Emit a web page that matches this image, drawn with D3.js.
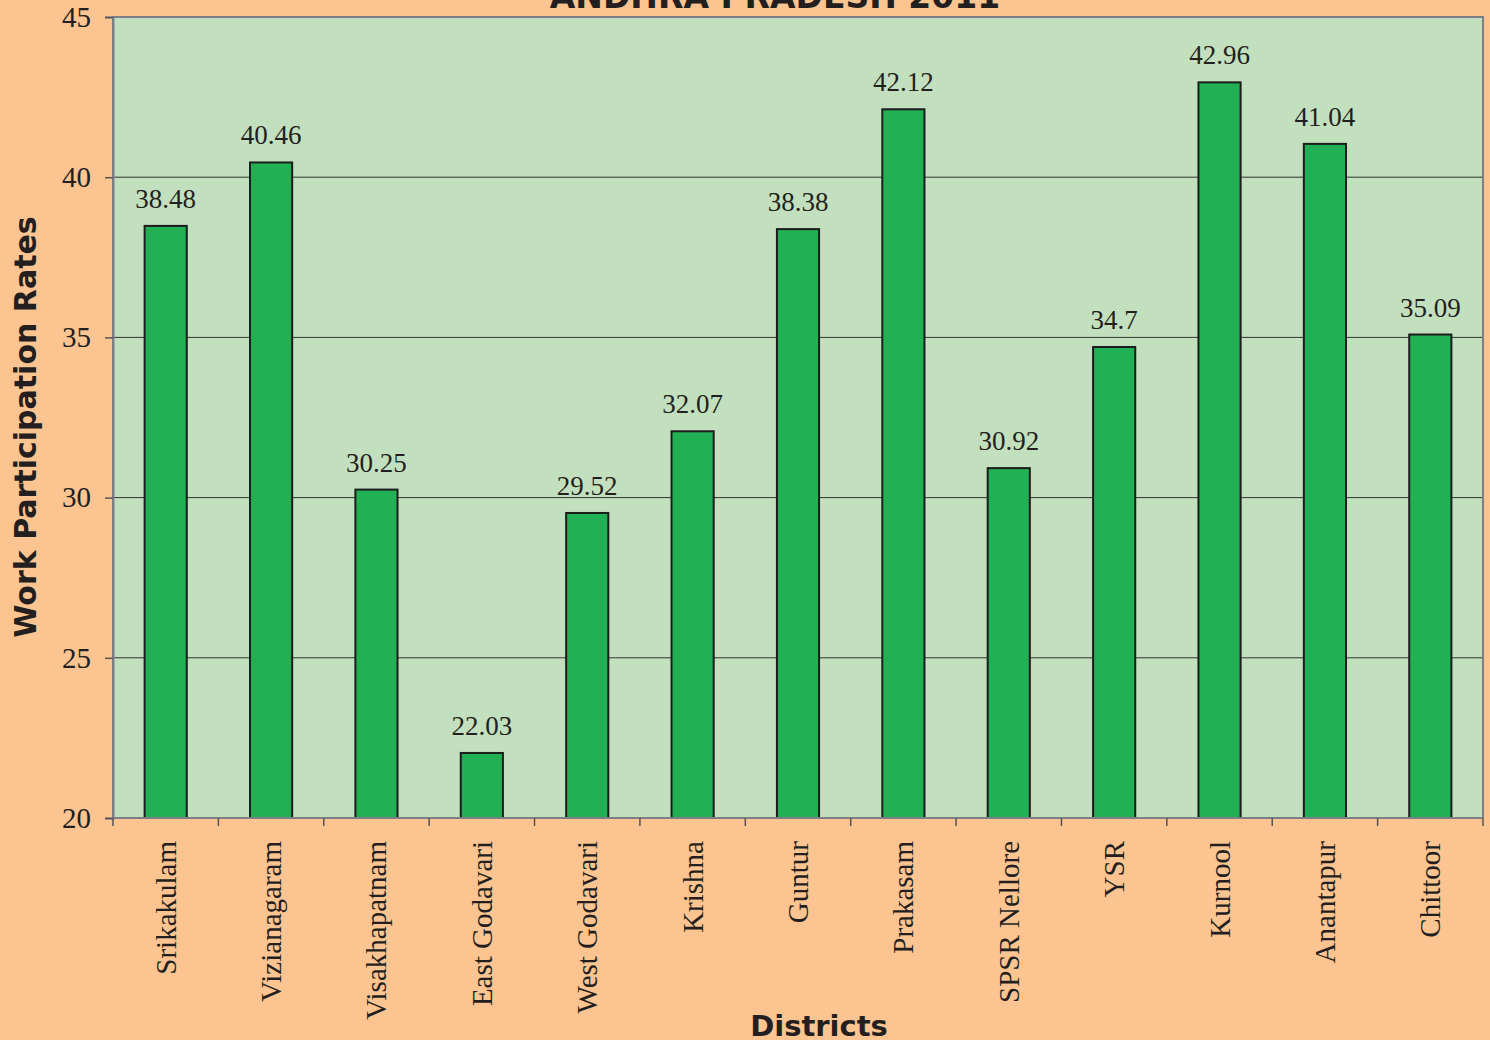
<!DOCTYPE html>
<html>
<head>
<meta charset="utf-8">
<script src="https://cdn.jsdelivr.net/npm/d3@7"></script>
<style>
  body { margin: 0; background: #fcc490; }
  svg { display: block; }
</style>
</head>
<body>
<div id="chart"></div>
<script>
// chart data
var districts = ["Srikakulam", "Vizianagaram", "Visakhapatnam", "East Godavari", "West Godavari",
    "Krishna", "Guntur", "Prakasam", "SPSR Nellore", "YSR", "Kurnool", "Anantapur", "Chittoor"];
var wprValues = [38.48, 40.46, 30.25, 22.03, 29.52, 32.07, 38.38, 42.12, 30.92, 34.7, 42.96, 41.04, 35.09];
var yTicks = [20, 25, 30, 35, 40, 45];
var chartTitle = "ANDHRA PRADESH 2011";

var W = 1490, H = 1040;
var margin = {top: 17, right: 7, bottom: 222, left: 113};
var width = W - margin.left - margin.right,
    height = H - margin.top - margin.bottom;

var serif = "'Liberation Serif', 'Times New Roman', serif";
var sans = "'DejaVu Sans', Verdana, sans-serif";

var svg = d3.select("#chart").append("svg")
    .attr("width", W)
    .attr("height", H);

svg.append("rect").attr("width", W).attr("height", H).attr("fill", "#fcc490");

var g = svg.append("g")
    .attr("transform", "translate(" + margin.left + "," + margin.top + ")");

var x = d3.scaleBand()
    .domain(districts)
    .range([0, width])
    .paddingInner(0.6)
    .paddingOuter(0.3);

var y = d3.scaleLinear()
    .domain([20, 45])
    .range([height, 0]);

// plot area
g.append("rect")
    .attr("width", width)
    .attr("height", height)
    .attr("fill", "#c3e0be");

// gridlines
g.selectAll("line.grid")
    .data(yTicks.slice(1, -1))
    .enter()
    .append("line")
    .attr("class", "grid")
    .attr("x1", 0).attr("x2", width)
    .attr("y1", d => y(d)).attr("y2", d => y(d))
    .attr("stroke", "#333")
    .attr("stroke-width", 1);

// border
g.append("path")
    .attr("d", "M0," + height + "V0H" + width + "V" + height)
    .attr("fill", "none")
    .attr("stroke", "#7d7f86")
    .attr("stroke-width", 2);

// bars
g.selectAll("rect.bar")
    .data(wprValues)
    .enter()
    .append("rect")
    .attr("class", "bar")
    .attr("x", (d, i) => x(districts[i]))
    .attr("y", d => y(d))
    .attr("width", x.bandwidth())
    .attr("height", d => height - y(d))
    .attr("fill", "#22b055")
    .attr("stroke", "#1c1c1c")
    .attr("stroke-width", 2);

// value labels
g.selectAll("text.val")
    .data(wprValues)
    .enter()
    .append("text")
    .attr("class", "val")
    .attr("x", (d, i) => x(districts[i]) + x.bandwidth() / 2)
    .attr("y", d => y(d) - 18)
    .attr("text-anchor", "middle")
    .style("font-family", serif)
    .style("font-size", "27px")
    .attr("fill", "#231f20")
    .text(d => d);

// y axis
var yAxis = g.append("g")
    .call(d3.axisLeft(y).tickValues(yTicks).tickSize(8).tickPadding(14));
yAxis.select(".domain").attr("stroke", "#7d7f86").attr("stroke-width", 2);
yAxis.selectAll(".tick line").attr("stroke", "#555").attr("stroke-width", 1.5);
yAxis.selectAll("text")
    .style("font-family", serif)
    .style("font-size", "29px")
    .attr("fill", "#231f20");

// x axis
var xAxisG = g.append("g")
    .attr("transform", "translate(0," + height + ")");
xAxisG.append("line")
    .attr("x1", 0).attr("x2", width)
    .attr("stroke", "#7d7f86").attr("stroke-width", 2);
xAxisG.selectAll("line.xtick")
    .data(d3.range(districts.length + 1))
    .enter()
    .append("line")
    .attr("class", "xtick")
    .attr("x1", i => i * x.step())
    .attr("x2", i => i * x.step())
    .attr("y1", 0).attr("y2", 8)
    .attr("stroke", "#555").attr("stroke-width", 1.5);

xAxisG.selectAll("text.cat")
    .data(districts)
    .enter()
    .append("text")
    .attr("class", "cat")
    .attr("transform", d => "translate(" + (x(d) + x.bandwidth() / 2 + 10) + ",23) rotate(-90)")
    .attr("text-anchor", "end")
    .style("font-family", serif)
    .style("font-size", "29px")
    .attr("fill", "#231f20")
    .text(d => d);

// titles
svg.append("text")
    .attr("x", 775)
    .attr("y", 8)
    .attr("text-anchor", "middle")
    .style("font-family", sans)
    .style("font-weight", "bold")
    .style("font-size", "33px")
    .attr("fill", "#231f20")
    .text(chartTitle);

svg.append("text")
    .attr("x", 819)
    .attr("y", 1036)
    .attr("text-anchor", "middle")
    .style("font-family", sans)
    .style("font-weight", "bold")
    .style("font-size", "29px")
    .attr("fill", "#231f20")
    .text("Districts");

svg.append("text")
    .attr("transform", "translate(36,427) rotate(-90)")
    .attr("text-anchor", "middle")
    .style("font-family", sans)
    .style("font-weight", "bold")
    .style("font-size", "30px")
    .attr("fill", "#231f20")
    .text("Work Participation Rates");
</script>
</body>
</html>
